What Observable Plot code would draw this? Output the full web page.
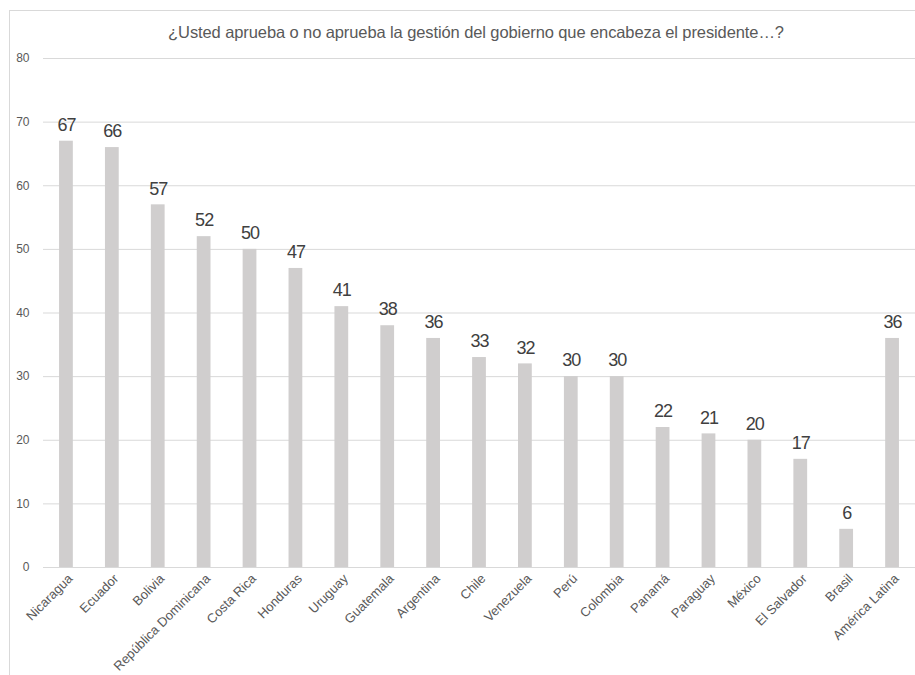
<!DOCTYPE html>
<html><head><meta charset="utf-8">
<script src="https://cdn.jsdelivr.net/npm/d3@7"></script>
<script src="https://cdn.jsdelivr.net/npm/@observablehq/plot@0.6"></script>
<style>
body{margin:0;background:#fff;overflow:hidden}
#wrap{position:relative;width:915px;height:675px}
#frame{position:absolute;left:9px;top:10px;width:920px;height:700px;border:1px solid #d9d9d9;box-sizing:border-box}
#title{position:absolute;left:43px;width:866px;top:23px;text-align:center;font-family:"Liberation Sans",Arial,sans-serif;font-size:16.5px;color:#595959;letter-spacing:-0.1px}
#chart{position:absolute;left:0;top:0}
</style></head>
<body><div id="wrap"><div id="frame"></div><div id="chart"></div><div id="title">¿Usted aprueba o no aprueba la gestión del gobierno que encabeza el presidente…?</div></div>
<script>
const countries = ["Nicaragua","Ecuador","Bolivia","República Dominicana","Costa Rica","Honduras","Uruguay","Guatemala","Argentina","Chile","Venezuela","Perú","Colombia","Panamá","Paraguay","México","El Salvador","Brasil","América Latina"];
const values = [67,66,57,52,50,47,41,38,36,33,32,30,30,22,21,20,17,6,36];
const yTicks = [0,10,20,30,40,50,60,70,80];
const data = countries.map((c,i)=>({country:c, value:values[i]}));
const font = '"Liberation Sans",Arial,sans-serif';
const chart = Plot.plot({
  width:915, height:675,
  marginLeft:43, marginRight:0, marginTop:58, marginBottom:108,
  style:{fontFamily:font, background:"transparent"},
  x:{domain:countries, paddingInner:0.7, paddingOuter:0.35, round:false, label:null},
  y:{domain:[0,80], ticks:yTicks, label:null},
  marks:[
    Plot.gridY(yTicks,{stroke:"#d9d9d9", strokeOpacity:1}),
    Plot.barY(data,{x:"country", y:"value", fill:"#d0cece"}),
    Plot.ruleY([0],{stroke:"#d9d9d9"}),
    Plot.text(data,{x:"country", y:"value", text:d=>String(d.value), dy:-16, fontSize:18, fill:"#404040"}),
    Plot.axisY(yTicks,{tickSize:0, tickPadding:14, fontSize:12, fill:"#595959"}),
    Plot.axisX({tickSize:0, tickPadding:9, dx:4, tickRotate:-45, fontSize:13, fill:"#595959"})
  ]
});
chart.querySelectorAll("g[aria-label='text'] text").forEach(t=>t.style.letterSpacing="-1px");
document.getElementById("chart").appendChild(chart);
</script></body></html>
